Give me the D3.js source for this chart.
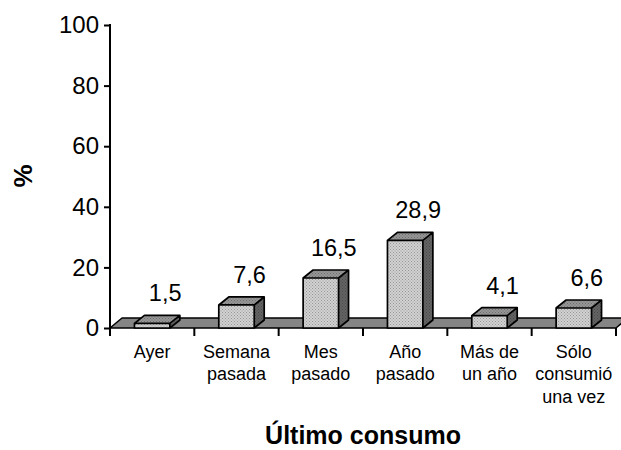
<!DOCTYPE html>
<html>
<head>
<meta charset="utf-8">
<script src="https://cdn.jsdelivr.net/npm/d3@7/dist/d3.min.js"></script>
<style>
  html, body { margin: 0; padding: 0; background: #fff; }
  svg { display: block; font-family: "Liberation Sans", Arial, sans-serif; }
</style>
</head>
<body>
<svg id="chart" width="621" height="450"></svg>
<script>
// Último consumo — percentage per category
const categories = ["Ayer", "Semana\npasada", "Mes\npasado", "Año\npasado", "Más de\nun año", "Sólo\nconsumió\nuna vez"];
const values = [1.5, 7.6, 16.5, 28.9, 4.1, 6.6];
const valueLabels = ["1,5", "7,6", "16,5", "28,9", "4,1", "6,6"];
const yTicks = [0, 20, 40, 60, 80, 100];

const svg = d3.select("#chart");
const plotLeft = 110, plotRight = 616, plotTop = 25, plotBase = 328;

const y = d3.scaleLinear().domain([0, 100]).range([plotBase, plotTop]);
const x = d3.scaleBand().domain(categories).range([plotLeft, plotRight]).paddingInner(0.58).paddingOuter(0.29);
const edge = d3.scaleLinear().domain([0, categories.length]).range([plotLeft, plotRight]);

// 3D depth offsets for the floor and the columns
const floorDx = 12, floorDy = 10;
const barDx = 10, barDy = 8;

// fill patterns for the dotted faces
const defs = svg.append("defs");
function dotPattern(id, bg, dot) {
  const p = defs.append("pattern").attr("id", id).attr("width", 3).attr("height", 3)
    .attr("patternUnits", "userSpaceOnUse");
  p.append("rect").attr("width", 3).attr("height", 3).attr("fill", bg);
  p.append("rect").attr("width", 1).attr("height", 1).attr("fill", dot);
  p.append("rect").attr("x", 1.5).attr("y", 1.5).attr("width", 1).attr("height", 1).attr("fill", dot);
}
dotPattern("front", "#d2d2d2", "#969696");
dotPattern("topface", "#979797", "#6c6c6c");
dotPattern("side", "#646464", "#484848");

// floor
svg.append("path")
  .attr("d", `M${plotLeft},${plotBase} L${plotRight},${plotBase} L${plotRight + floorDx},${plotBase - floorDy} L${plotLeft + floorDx},${plotBase - floorDy} Z`)
  .attr("fill", "#858585").attr("stroke", "#000").attr("stroke-width", 1.5).attr("stroke-linejoin", "round");

// columns
const bars = svg.append("g").selectAll("g").data(categories).join("g");
bars.each(function(c, i) {
  const g = d3.select(this);
  const x0 = x(c), x1 = x0 + x.bandwidth();
  const yt = y(values[i]), yb = y(0);
  g.append("path")
    .attr("d", `M${x1},${yb} L${x1 + barDx},${yb - barDy} L${x1 + barDx},${yt - barDy} L${x1},${yt} Z`)
    .attr("fill", "url(#side)");
  g.append("path")
    .attr("d", `M${x0},${yt} L${x0 + barDx},${yt - barDy} L${x1 + barDx},${yt - barDy} L${x1},${yt} Z`)
    .attr("fill", "url(#topface)");
  g.append("rect")
    .attr("x", x0).attr("y", yt).attr("width", x.bandwidth()).attr("height", yb - yt)
    .attr("fill", "url(#front)");
  // outlines
  g.append("path")
    .attr("d", `M${x0},${yb} L${x0},${yt} L${x0 + barDx},${yt - barDy} L${x1 + barDx},${yt - barDy} L${x1 + barDx},${yb - barDy} L${x1},${yb} Z M${x0},${yt} L${x1},${yt} L${x1},${yb} M${x1},${yt} L${x1 + barDx},${yt - barDy}`)
    .attr("fill", "none").attr("stroke", "#000").attr("stroke-width", 1.7).attr("stroke-linejoin", "round");
});

// value labels
svg.append("g").selectAll("text").data(categories).join("text")
  .attr("x", (c) => x(c) + x.bandwidth() / 2 + 13)
  .attr("y", (c, i) => y(values[i]) - 22)
  .attr("text-anchor", "middle")
  .attr("font-size", 23.5)
  .attr("fill", "#000")
  .text((c, i) => valueLabels[i]);

// y axis
const yAxis = svg.append("g").attr("transform", `translate(${plotLeft},0)`)
  .call(d3.axisLeft(y).tickValues(yTicks).tickSize(6).tickPadding(5).tickFormat(d3.format("d")));
yAxis.select(".domain").remove();
yAxis.selectAll(".tick line").attr("stroke", "#000").attr("stroke-width", 2);
yAxis.selectAll(".tick text").attr("font-size", 24).attr("fill", "#000")
  .attr("font-family", "'Liberation Sans', Arial, sans-serif");
svg.append("line").attr("x1", plotLeft).attr("x2", plotLeft).attr("y1", plotTop - 1).attr("y2", plotBase + 8)
  .attr("stroke", "#000").attr("stroke-width", 2);

// category boundary ticks
svg.append("g").selectAll("line").data(d3.range(1, categories.length + 1)).join("line")
  .attr("x1", (d) => edge(d)).attr("x2", (d) => edge(d))
  .attr("y1", plotBase).attr("y2", plotBase + 8)
  .attr("stroke", "#000").attr("stroke-width", 2);

// category labels
const catText = svg.append("g").selectAll("text").data(categories).join("text")
  .attr("text-anchor", "middle").attr("font-size", 18).attr("fill", "#000");
catText.each(function(c) {
  const t = d3.select(this);
  c.split("\n").forEach((line, k) => {
    t.append("tspan").attr("x", x(c) + x.bandwidth() / 2).attr("y", 357.5 + k * 22.7).text(line);
  });
});

// axis titles
svg.append("text").attr("x", (plotLeft + plotRight) / 2).attr("y", 444)
  .attr("text-anchor", "middle").attr("font-size", 25).attr("font-weight", "bold").text("Último consumo");
svg.append("text").attr("transform", "translate(32,176) rotate(-90)")
  .attr("text-anchor", "middle").attr("font-size", 26).attr("font-weight", "bold").text("%");
</script>
</body>
</html>
